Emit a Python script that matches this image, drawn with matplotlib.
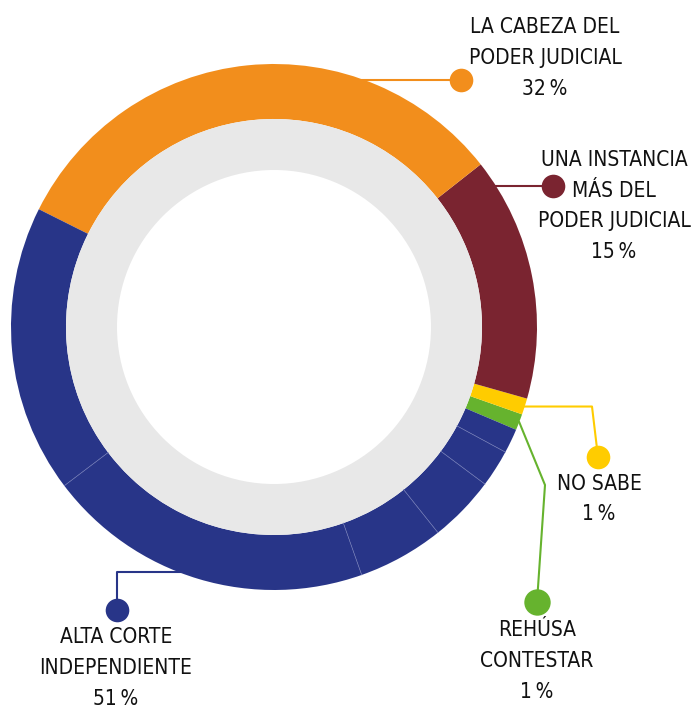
import numpy as np
import matplotlib
matplotlib.use("Agg")
import matplotlib.pyplot as plt
from matplotlib import font_manager

# survey shares (%), listed counter-clockwise starting at the lower right
categories = ["REHÚSA\nCONTESTAR", "NO SABE", "UNA INSTANCIA\nMÁS DEL\nPODER JUDICIAL",
              "LA CABEZA DEL\nPODER JUDICIAL", "ALTA CORTE\nINDEPENDIENTE"]
shares = [1, 1, 15, 32]
# the "alta corte" slice is drawn as several stacked parts
alta_corte_parts = [17.7, 20.1, 5.3, 4.1, 2.3, 1.5]
colors = ["#66b32e", "#ffcc00", "#7a2430", "#f28e1c", "#283588"]

W, H = 691, 709
CX, CY, R = 274, 327, 263          # ring centre / outer radius in pixels
R_IN, R_GRAY = 208, 157
START = -23.0

# pick a narrow face if one is installed
names = {f.name: f for f in font_manager.fontManager.ttflist}
narrow = [f for f in font_manager.fontManager.ttflist
          if ("Narrow" in f.name or "Condensed" in f.name
              or f.stretch in ("condensed", "semi-condensed", 500 - 200, 300))
          and f.weight in ("normal", 400, "regular", "book")]
font_name = "Liberation Sans Narrow" if "Liberation Sans Narrow" in names else (
    narrow[0].name if narrow else "DejaVu Sans")
stretch = "normal" if "Narrow" in font_name or "Condensed" in font_name else "condensed"
plt.rcParams["font.family"] = [font_name, "DejaVu Sans"]
plt.rcParams["font.stretch"] = stretch

fig = plt.figure(figsize=(W / 100, H / 100), dpi=100)
ax = fig.add_axes([0, 0, 1, 1])


def px(x, y):
    return (x - CX) / R, (CY - y) / R


values = shares + alta_corte_parts
wcols = colors[:4] + [colors[4]] * len(alta_corte_parts)
ax.pie(values, colors=wcols, startangle=START, counterclock=True, radius=1,
       wedgeprops=dict(width=(R - R_IN) / R, linewidth=0))
ax.pie([1], colors=["#e8e8e8"], radius=R_IN / R,
       wedgeprops=dict(width=(R_IN - R_GRAY) / R, linewidth=0))
ax.set_xlim(-CX / R, (W - CX) / R)
ax.set_ylim(-(H - CY) / R, CY / R)
ax.set_aspect("equal")
ax.axis("off")

# faint separators between the parts of the blue slice
cum = START + 360 * np.cumsum(values) / sum(values)
for a in cum[len(shares):-1]:
    t = np.deg2rad(a)
    ax.plot([R_IN / R * np.cos(t), np.cos(t)], [R_IN / R * np.sin(t), np.sin(t)],
            color="#6d76b3", lw=0.5, zorder=3)

edges = START + 360 * np.concatenate([[0], np.cumsum(shares)]) / sum(values)
mid = (edges[:-1] + edges[1:]) / 2


def on_ring(angle):
    t = np.deg2rad(angle)
    return np.cos(t), np.sin(t)


def ring_x_at(ypix, side):
    dy = (CY - ypix) / R
    return side * np.sqrt(1 - dy ** 2)


lw = 1.5
ms = 17
# LA CABEZA DEL PODER JUDICIAL
y = px(0, 80)[1]
ax.plot([ring_x_at(80, 1) - 0.01, px(461, 0)[0]], [y, y], color=colors[3], lw=lw, zorder=1)
ax.plot(*px(461, 80), "o", color=colors[3], ms=ms, mew=0)
# UNA INSTANCIA MÁS DEL PODER JUDICIAL
y = px(0, 186)[1]
ax.plot([ring_x_at(186, 1) - 0.01, px(553, 0)[0]], [y, y], color=colors[2], lw=lw, zorder=1)
ax.plot(*px(553, 186), "o", color=colors[2], ms=ms, mew=0)
# NO SABE
x0, y0 = on_ring(mid[1])
xb, yb = px(592, 0)[0], y0
xd, yd = px(598, 457)
ax.plot([x0, xb, xd], [y0, yb, yd], color=colors[1], lw=lw, zorder=1)
ax.plot(xd, yd, "o", color=colors[1], ms=ms, mew=0)
# REHÚSA CONTESTAR
x0, y0 = on_ring(mid[0])
xb, yb = px(545, 485)
xd, yd = px(537, 602)
ax.plot([x0, xb, xd], [y0, yb, yd], color=colors[0], lw=lw, zorder=1)
ax.plot(xd, yd, "o", color=colors[0], ms=ms + 2, mew=0)
# ALTA CORTE INDEPENDIENTE
y = px(0, 572)[1]
xd, yd = px(117, 610)
ax.plot([ring_x_at(572, -1) + 0.01, xd, xd], [y, y, yd], color=colors[4], lw=lw, zorder=1)
ax.plot(xd, yd, "o", color=colors[4], ms=ms, mew=0)

totals = shares + [sum(alta_corte_parts)]
label_pos = [(537, 661), (599, 499), (614, 206), (545, 58), (116, 668)]
for name, val, (lx, ly) in zip(categories, totals, label_pos):
    ax.text(*px(lx, ly), f"{name}\n{val:.0f}\u2009%", ha="center", va="center",
            fontsize=15, linespacing=1.68, color="#111111")

fig.savefig("out.png", dpi=100)
